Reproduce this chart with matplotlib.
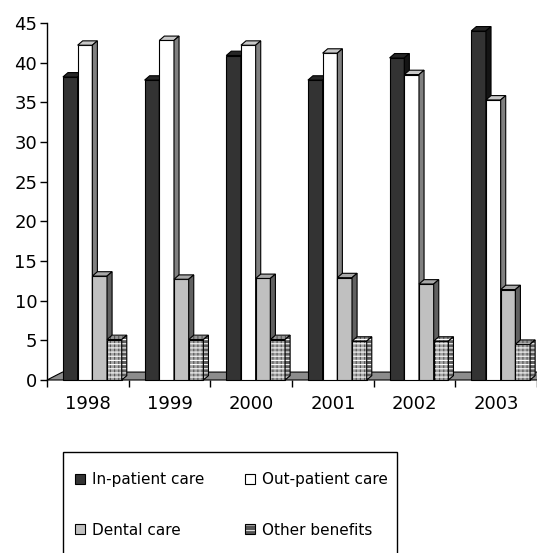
import numpy as np
import matplotlib.pyplot as plt
from matplotlib.patches import Polygon, Patch, Rectangle

# === data ===
years = ["1998", "1999", "2000", "2001", "2002", "2003"]
inpatient = [38.2, 37.8, 40.9, 37.8, 40.6, 44.0]
outpatient = [42.2, 42.8, 42.2, 41.2, 38.5, 35.3]
dental = [13.1, 12.7, 12.8, 12.9, 12.1, 11.4]
other = [5.1, 5.1, 5.1, 4.9, 4.9, 4.5]
series_names = ["In-patient care", "Out-patient care", "Dental care", "Other benefits"]

plt.rcParams['font.family'] = ['DejaVu Sans']
plt.rcParams['hatch.linewidth'] = 0.8

# front, top, side colours, hatched?
styles = [
    ("#333333", "#262626", "#141414", False),
    ("#ffffff", "#c8c8c8", "#808080", False),
    ("#c0c0c0", "#a8a8a8", "#606060", False),
    ("#a4a4a4", "#959595", "#606060", True),
]

fig = plt.figure(figsize=(5.37, 5.53), dpi=100)
ax = fig.add_axes([47 / 537, 1 - 380 / 553, 490 / 537, 357 / 553])
ax.set_xlim(0, 6)
ax.set_ylim(0, 45)

W = 0.18        # bar width (category units)
OFF = 0.195     # first bar offset inside category
DX, DY = 0.062, 0.55    # bar depth
FDX, FDY = 0.19, 1.0    # floor depth

# floor
floor = Polygon([(0, 0), (6, 0), (6 + FDX, FDY), (FDX, FDY)], closed=True,
                facecolor="#8c8c8c", edgecolor="black", lw=0.8, zorder=1, clip_on=False)
ax.add_patch(floor)


def hatched(pts, col, z):
    # grey cells: dark vertical lines, white horizontal lines, black outline
    ax.add_patch(Polygon(pts, closed=True, facecolor=col, hatch="||||",
                         edgecolor="#555555", lw=0, zorder=z, clip_on=False))
    ax.add_patch(Polygon(pts, closed=True, fill=False, hatch="----",
                         edgecolor="white", lw=0, zorder=z, clip_on=False))
    ax.add_patch(Polygon(pts, closed=True, fill=False, edgecolor="black",
                         lw=0.8, zorder=z, clip_on=False))


x = np.arange(len(years))
data = [inpatient, outpatient, dental, other]

for k, (vals, (front, top, side, hatch)) in enumerate(zip(data, styles)):
    left = x + OFF + k * W
    z = 2 + k
    if hatch:
        ax.bar(left, vals, W, align="edge", color=front, hatch="||||",
               edgecolor="#555555", linewidth=0, zorder=z, clip_on=False)
        ax.bar(left, vals, W, align="edge", fill=False, hatch="----",
               edgecolor="white", linewidth=0, zorder=z, clip_on=False)
        ax.bar(left, vals, W, align="edge", fill=False, edgecolor="black",
               linewidth=0.8, zorder=z, clip_on=False)
    else:
        ax.bar(left, vals, W, align="edge", color=front, edgecolor="black",
               linewidth=0.8, zorder=z, clip_on=False)
    for l, h in zip(left, vals):
        r = l + W
        top_pts = [(l, h), (r, h), (r + DX, h + DY), (l + DX, h + DY)]
        side_pts = [(r, 0), (r + DX, DY), (r + DX, h + DY), (r, h)]
        for pts, col in ((top_pts, top), (side_pts, side)):
            if hatch:
                hatched(pts, col, z)
            else:
                ax.add_patch(Polygon(pts, closed=True, facecolor=col, edgecolor="black",
                                     lw=0.8, zorder=z, clip_on=False))

# axes
for s in ["top", "right", "bottom"]:
    ax.spines[s].set_visible(False)
ax.spines["left"].set_linewidth(1.0)

ax.set_yticks(np.arange(0, 46, 5))
ax.tick_params(axis="y", direction="out", length=5, width=1, pad=2, labelsize=13)
ax.set_xticks(np.arange(0, 7))
ax.set_xticklabels([])
ax.set_xticks(x + 0.5, minor=True)
ax.set_xticklabels(years, minor=True)
ax.tick_params(axis="x", which="major", direction="out", length=5, width=1)
ax.tick_params(axis="x", which="minor", length=0, pad=11, labelsize=13)

# legend (row-wise order like the original: matplotlib fills columns first)
handles = []
for name, (front, top, side, hatch) in zip(series_names, styles):
    if hatch:
        h = (Patch(facecolor="#555555", edgecolor="#dddddd", hatch="---", lw=0),
             Patch(fill=False, edgecolor="black", lw=0.8))
    else:
        h = Patch(facecolor=front, edgecolor="black", lw=0.8)
    handles.append(h)
order = [0, 2, 1, 3]
leg = fig.legend([handles[i] for i in order], [series_names[i] for i in order],
                 ncol=2, loc="upper left",
                 bbox_to_anchor=(75 / 537, 1 - 472 / 553, 313 / 537, 0.0),
                 mode="expand", frameon=False, fontsize=11,
                 handlelength=0.65, handleheight=0.65, handletextpad=0.45,
                 labelspacing=2.33, borderpad=0, borderaxespad=0)

# legend box (its bottom edge lies below the picture)
fig.patches.append(Rectangle((63 / 537, -0.05), 334 / 537, 0.05 + 1 - 452 / 553,
                             transform=fig.transFigure, fill=False,
                             edgecolor="black", lw=1.0))

fig.savefig("out.png", dpi=100)
